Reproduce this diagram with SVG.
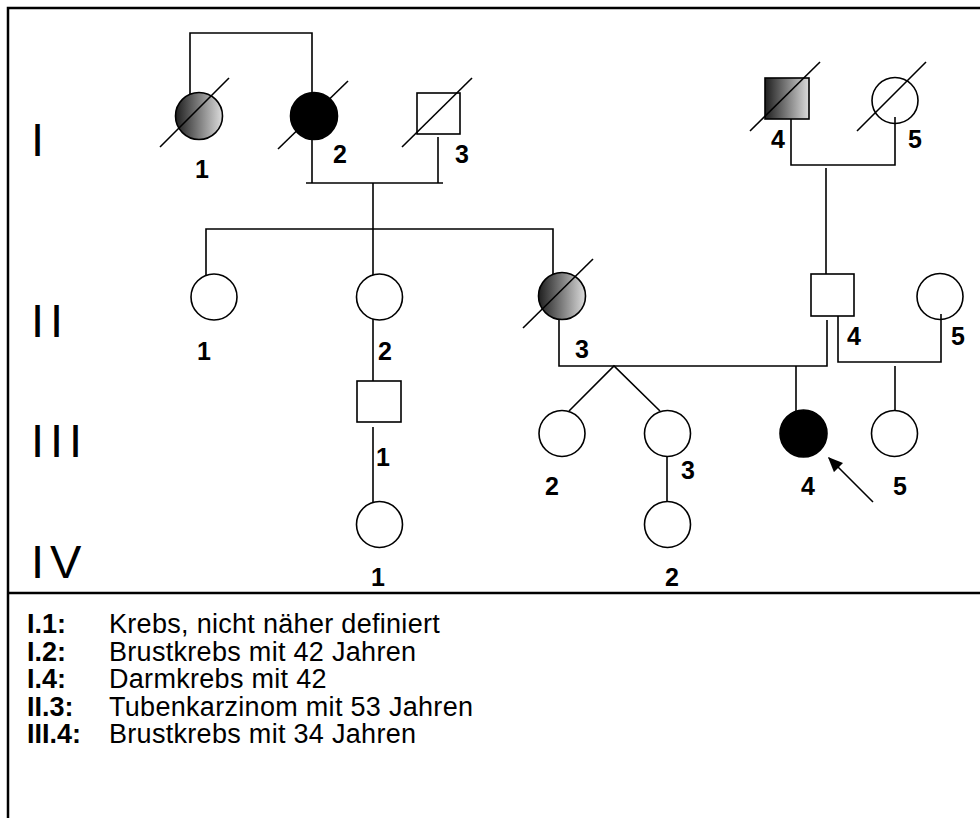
<svg xmlns="http://www.w3.org/2000/svg" width="980" height="818" viewBox="0 0 980 818">
  <style>
    .frame { stroke: #000; stroke-width: 2.5; fill: none; }
    .ln { stroke: #000; stroke-width: 1.6; fill: none; }
    .sym { stroke: #000; stroke-width: 1.6; fill: #fff; }
    .aff { fill: #000; }
    .part { fill: url(#partial); }
    .num { font-family: "Liberation Sans", Arial, sans-serif; font-size: 25px; font-weight: bold; text-anchor: middle; fill: #000; }
    .gen { font-family: "Liberation Sans", Arial, sans-serif; font-size: 47px; letter-spacing: 6px; fill: #000; }
    .key { font-family: "Liberation Sans", Arial, sans-serif; font-size: 27px; font-weight: bold; fill: #000; }
    .desc { font-family: "Liberation Sans", Arial, sans-serif; font-size: 27px; letter-spacing: 0.3px; fill: #000; }
  </style>
  <defs>
    <linearGradient id="partial" x1="0" y1="0" x2="1" y2="0">
      <stop offset="0" stop-color="#1e1e1e"/>
      <stop offset="1" stop-color="#dcdcdc"/>
    </linearGradient>
    <marker id="arrowhead" viewBox="0 0 10 10" refX="9" refY="5" markerWidth="15" markerHeight="13" markerUnits="userSpaceOnUse" orient="auto" preserveAspectRatio="none">
      <path d="M0,0 L10,5 L0,10 z" fill="#000"/>
    </marker>
  </defs>

  <rect width="980" height="818" fill="#fff"/>

  <!-- outer frame (open on the right and bottom) and key separator -->
  <path class="frame" d="M8,818 V8 H980"/>
  <path class="frame" d="M8,593 H980"/>

  <!-- generation numerals -->
  <text class="gen" x="31" y="156">I</text>
  <text class="gen" x="31" y="337">II</text>
  <text class="gen" x="31" y="457">III</text>
  <text class="gen" x="31" y="578">IV</text>

  <!-- connectors -->
  <g id="connectors">
    <path class="ln" d="M190,94 V33 H312 V93"/>
    <path class="ln" d="M312,139 V183"/>
    <path class="ln" d="M438,137 V183"/>
    <path class="ln" d="M306,183 H443"/>
    <path class="ln" d="M373,183 V229"/>
    <path class="ln" d="M206,275 V229 H553 V274"/>
    <path class="ln" d="M373,229 V275"/>
    <path class="ln" d="M373,319 V381"/>
    <path class="ln" d="M373,427 V502"/>
    <path class="ln" d="M791,119 V165 H895 V117"/>
    <path class="ln" d="M826,168 V274"/>
    <path class="ln" d="M559,320 V366 H827 V320"/>
    <path class="ln" d="M569,411 L614,366 L660,411"/>
    <path class="ln" d="M796,366 V411"/>
    <path class="ln" d="M838,316 V362 H941 V314"/>
    <path class="ln" d="M895,366 V411"/>
    <path class="ln" d="M667,456 V502"/>
    <path class="ln" d="M873,502 L829,458" marker-end="url(#arrowhead)"/>
  </g>

  <!-- generation I -->
  <g id="I-1">
    <circle class="sym part" cx="199" cy="116" r="23.5"/>
    <line class="ln" x1="160" y1="147" x2="229" y2="78"/>
    <text class="num" x="202" y="178">1</text>
  </g>
  <g id="I-2">
    <circle class="sym aff" cx="314" cy="116" r="23.5"/>
    <line class="ln" x1="278" y1="149" x2="348" y2="81"/>
    <text class="num" x="340" y="163">2</text>
  </g>
  <g id="I-3">
    <rect class="sym" x="417" y="93" width="43" height="41"/>
    <line class="ln" x1="402" y1="147" x2="472" y2="78"/>
    <text class="num" x="462" y="163">3</text>
  </g>
  <g id="I-4">
    <rect class="sym part" x="765" y="78" width="44" height="41"/>
    <line class="ln" x1="750" y1="131" x2="820" y2="62"/>
    <text class="num" x="778" y="148">4</text>
  </g>
  <g id="I-5">
    <circle class="sym" cx="895" cy="100.5" r="23"/>
    <line class="ln" x1="857" y1="131" x2="926" y2="62"/>
    <line class="ln" x1="895" y1="117" x2="895" y2="124"/>
    <text class="num" x="915" y="148">5</text>
  </g>

  <!-- generation II -->
  <g id="II-1">
    <circle class="sym" cx="214" cy="297" r="23"/>
    <text class="num" x="204" y="360">1</text>
  </g>
  <g id="II-2">
    <circle class="sym" cx="379.5" cy="297" r="23"/>
    <text class="num" x="385" y="360">2</text>
  </g>
  <g id="II-3">
    <circle class="sym part" cx="562" cy="296" r="23.5"/>
    <line class="ln" x1="523" y1="328" x2="593" y2="259"/>
    <text class="num" x="582" y="358">3</text>
  </g>
  <g id="II-4">
    <rect class="sym" x="811" y="274" width="43" height="42"/>
    <text class="num" x="854" y="345">4</text>
  </g>
  <g id="II-5">
    <circle class="sym" cx="940" cy="296.5" r="23"/>
    <line class="ln" x1="941" y1="314" x2="941" y2="320"/>
    <text class="num" x="958" y="345">5</text>
  </g>

  <!-- generation III -->
  <g id="III-1">
    <rect class="sym" x="357" y="381" width="44" height="41"/>
    <text class="num" x="383" y="466">1</text>
  </g>
  <g id="III-2">
    <circle class="sym" cx="562" cy="433.5" r="23"/>
    <text class="num" x="552" y="495">2</text>
  </g>
  <g id="III-3">
    <circle class="sym" cx="667.5" cy="433.5" r="23"/>
    <text class="num" x="688" y="479">3</text>
  </g>
  <g id="III-4">
    <circle class="sym aff" cx="803.5" cy="433.5" r="23.5"/>
    <text class="num" x="808" y="495">4</text>
  </g>
  <g id="III-5">
    <circle class="sym" cx="894.5" cy="433.5" r="23"/>
    <text class="num" x="900" y="495">5</text>
  </g>

  <!-- generation IV -->
  <g id="IV-1">
    <circle class="sym" cx="379.5" cy="524.5" r="23"/>
    <text class="num" x="378" y="586">1</text>
  </g>
  <g id="IV-2">
    <circle class="sym" cx="667.5" cy="524.5" r="23"/>
    <text class="num" x="672" y="586">2</text>
  </g>

  <!-- key -->
  <g id="key">
    <text class="key" x="27" y="633">I.1:</text>
    <text class="desc" x="109" y="633">Krebs, nicht näher definiert</text>
    <text class="key" x="27" y="660.5">I.2:</text>
    <text class="desc" x="109" y="660.5">Brustkrebs mit 42 Jahren</text>
    <text class="key" x="27" y="688">I.4:</text>
    <text class="desc" x="109" y="688">Darmkrebs mit 42</text>
    <text class="key" x="27" y="715.5">II.3:</text>
    <text class="desc" x="109" y="715.5">Tubenkarzinom mit 53 Jahren</text>
    <text class="key" x="27" y="743">III.4:</text>
    <text class="desc" x="109" y="743">Brustkrebs mit 34 Jahren</text>
  </g>
</svg>
